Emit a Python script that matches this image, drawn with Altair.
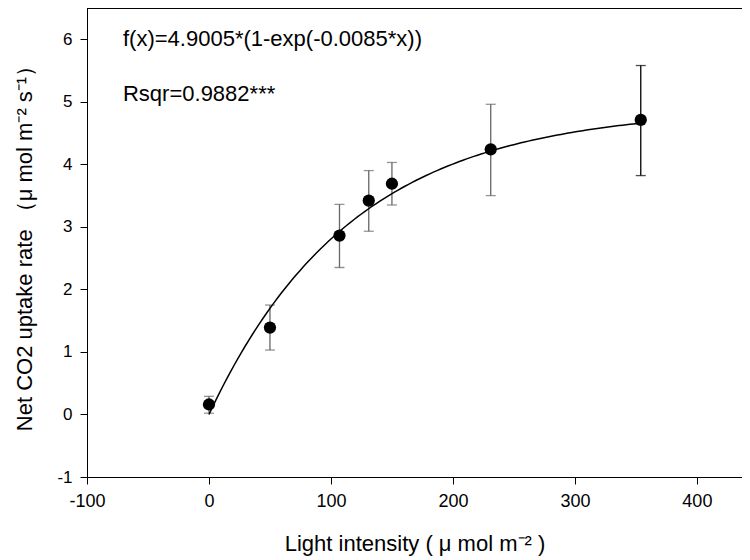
import altair as alt
import pandas as pd
import numpy as np

# Observed means and error bar bounds
light = [0, 50, 107, 131, 150, 231, 354]
uptake = [0.16, 1.39, 2.86, 3.42, 3.69, 4.24, 4.71]
err_low = [0.02, 1.03, 2.35, 2.93, 3.35, 3.50, 3.82]
err_high = [0.29, 1.75, 3.36, 3.90, 4.03, 4.96, 5.58]
bar_color = ["#666666", "#666666", "#666666", "#666666", "#666666", "#666666", "#000000"]

# Fitted model shown in the chart: f(x)=a*(1-exp(-b*x))
fit_a = 4.9005
fit_b = 0.0085
fit_x = np.linspace(0, 354, 120)

annot_text = ["f(x)=4.9005*(1-exp(-0.0085*x))", "Rsqr=0.9882***"]
annot_x = [-70.5, -70.5]
annot_y = [6.0, 5.12]

x_ticks = [-100, 0, 100, 200, 300, 400]
y_ticks = [-1, 0, 1, 2, 3, 4, 5, 6]

pts = pd.DataFrame({"x": light, "y": uptake, "lo": err_low, "hi": err_high, "c": bar_color})
fit = pd.DataFrame({"x": fit_x, "y": fit_a * (1 - np.exp(-fit_b * fit_x))})
ann = pd.DataFrame({"t": annot_text, "x": annot_x, "y": annot_y})

FONT = "Liberation Sans"
xscale = alt.Scale(domain=[-100, 437], nice=False, zero=False)
yscale = alt.Scale(domain=[-1, 6.5], nice=False, zero=False)

xaxis = alt.Axis(values=x_ticks, title="Light intensity ( μ mol m⁻² )",
                 labelExpr="datum.value + ''",
                 grid=False, domainColor="#000", tickColor="#000", tickSize=7,
                 labelFont=FONT, labelFontSize=18, labelColor="#000", labelPadding=8,
                 titleFont=FONT, titleFontSize=22, titleFontWeight="normal", titleColor="#000",
                 titlePadding=23, labelFlush=False)
yaxis = alt.Axis(values=y_ticks, title="Net CO2 uptake rate （μ mol m⁻² s⁻¹）",
                 labelExpr="datum.value + ''",
                 grid=False, domainColor="#000", tickColor="#000", tickSize=7,
                 labelFont=FONT, labelFontSize=17, labelColor="#000", labelPadding=8,
                 titleFont=FONT, titleFontSize=22, titleFontWeight="normal", titleColor="#000",
                 titlePadding=20, labelFlush=False)

base = alt.Chart(pts)

errbars = base.mark_rule(strokeWidth=1.3).encode(
    x=alt.X("x:Q", scale=xscale, axis=xaxis),
    y=alt.Y("lo:Q", scale=yscale, axis=yaxis),
    y2="hi:Q",
    color=alt.Color("c:N", scale=None),
)
caps_hi = base.mark_tick(orient="horizontal", size=10, thickness=1.3).encode(
    x="x:Q", y="hi:Q", color=alt.Color("c:N", scale=None))
caps_lo = base.mark_tick(orient="horizontal", size=10, thickness=1.3).encode(
    x="x:Q", y="lo:Q", color=alt.Color("c:N", scale=None))

line = alt.Chart(fit).mark_line(color="#000", strokeWidth=1.5).encode(x="x:Q", y="y:Q")

dots = base.mark_point(filled=True, size=150, color="#000", opacity=1).encode(x="x:Q", y="y:Q")

text = alt.Chart(ann).mark_text(align="left", baseline="middle", font=FONT, fontSize=22,
                                color="#000").encode(x="x:Q", y="y:Q", text="t:N")

top_border = alt.Chart(pts).mark_rule(color="#000", strokeWidth=1).encode(
    x=alt.value(0), x2=alt.value(655), y=alt.value(0))

chart = alt.layer(errbars, caps_hi, caps_lo, line, dots, text, top_border).properties(
    width=655, height=469,
    autosize=alt.AutoSizeParams(type="none"),
    padding={"left": 79, "top": 0, "right": 0, "bottom": 80},
).configure_view(stroke=None).configure(background="white")

chart.save("out.html", embed_options={"renderer": "svg", "actions": False})
